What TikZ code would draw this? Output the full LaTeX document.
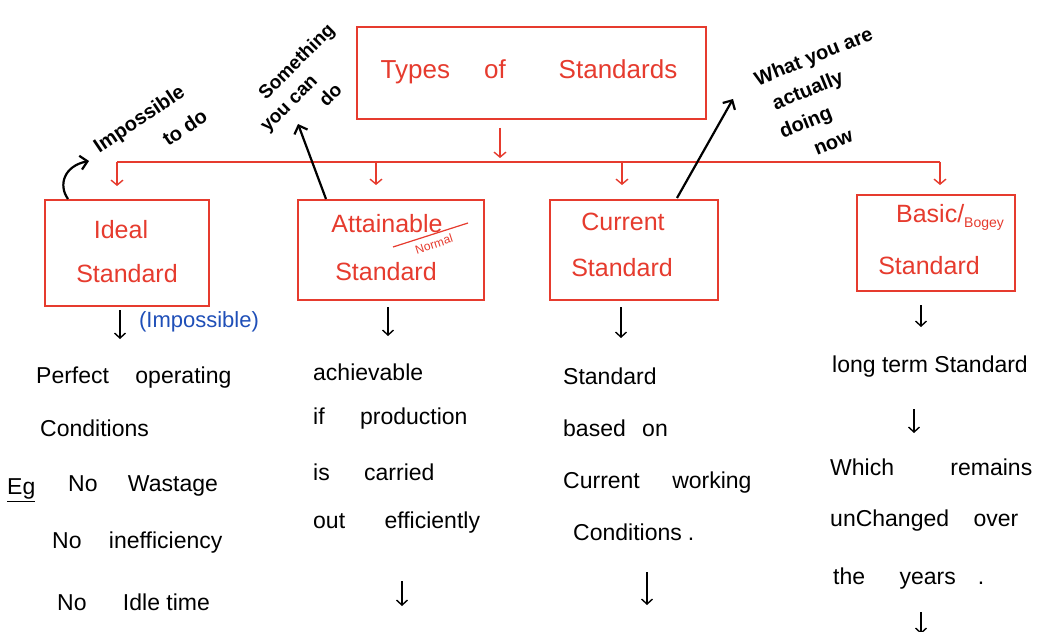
\documentclass[tikz,border=0pt]{standalone}
\usepackage{fontspec}
\setmainfont{Liberation Sans}
\usetikzlibrary{arrows.meta}
\definecolor{inkred}{HTML}{E63B2E}
\definecolor{inkblue}{HTML}{1F4FB8}
\begin{document}
\begin{tikzpicture}[x=1pt,y=-1pt,
  rbox/.style={draw=inkred, line width=1.6pt, inner sep=0pt},
  rtxt/.style={text=inkred, font=\fontsize{25}{28}\selectfont, inner sep=0pt},
  btxt/.style={text=black, font=\fontsize{23}{26}\selectfont, inner sep=0pt, anchor=west},
  note/.style={text=black, font=\bfseries\fontsize{20}{24}\selectfont, inner sep=0pt, align=center},
  redarrow/.style={draw=inkred, line width=1.4pt, -{Straight Barb[length=5pt,width=12pt]}},
  redline/.style={draw=inkred, line width=1.4pt},
  inkarrow/.style={draw=black, line width=1.4pt, -{Straight Barb[length=5pt,width=11pt]}},
  pointer/.style={draw=black, line width=2.2pt, -{Straight Barb[length=7pt,width=14pt]}}]
\useasboundingbox[fill=white] (0,0) rectangle (1056,631);

% ---------- boxes ----------
\node[rbox, minimum width=349pt, minimum height=92pt] (top) at (531.5,73) {};
\node[rtxt, font=\fontsize{26}{29}\selectfont] (toptxt) at (529,72) {Types\hspace{34pt}of\hspace{53pt}Standards};

\node[rbox, minimum width=164pt, minimum height=106pt] (ideal) at (127,253) {};
\node[rtxt] (ideal1) at (121,230) {Ideal};
\node[rtxt] (ideal2) at (127,274) {Standard};

\node[rbox, minimum width=186pt, minimum height=100pt] (attain) at (391,250) {};
\node[rtxt] (attain1) at (387,224) {Attainable};
\node[rtxt] (attain2) at (386,272) {Standard};
\node[rtxt, font=\fontsize{12}{14}\selectfont, rotate=18] (normal) at (434,244) {Normal};

\node[rbox, minimum width=168pt, minimum height=100pt] (current) at (634,250) {};
\node[rtxt] (current1) at (623,222) {Current};
\node[rtxt] (current2) at (622,268) {Standard};

\node[rbox, minimum width=158pt, minimum height=96pt] (basic) at (936,243) {};
\node[rtxt] (basic1) at (950,217) {Basic/\raisebox{-5pt}{\fontsize{14}{16}\selectfont Bogey}};
\node[rtxt] (basic2) at (929,266) {Standard};

% strike-through of "Attainable"
\coordinate (strikeA) at (393,247);
\coordinate (strikeB) at (468,223);
\draw[redline, line width=1.2pt] (strikeA) -- (strikeB);

% ---------- red tree ----------
\coordinate (stemtop) at (500,128);
\coordinate (stembot) at (500,158);
\coordinate (barL) at (117,162);
\coordinate (barR) at (940,162);
\coordinate (drop1) at (117,186);
\coordinate (b2) at (376,162);
\coordinate (drop2) at (376,185);
\coordinate (b3) at (622,162);
\coordinate (drop3) at (622,185);
\coordinate (drop4) at (940,185);
\draw[redarrow] (stemtop) -- (stembot);
\draw[redline] (barL) -- (barR);
\draw[redarrow] (barL) -- (drop1);
\draw[redarrow] (b2) -- (drop2);
\draw[redarrow] (b3) -- (drop3);
\draw[redarrow] (barR) -- (drop4);

% ---------- side notes ----------
\coordinate (curlStart) at (68,199);
\coordinate (curlEnd) at (89,161);
\draw[pointer] (curlStart) .. controls (58,185) and (64,166) .. (curlEnd);
\node[note, rotate=34, font=\bfseries\fontsize{20}{33}\selectfont] (imp) at (148,132)
  {Impossible\\\hspace*{66pt}to do};

\coordinate (attTop) at (326,199);
\coordinate (attTip) at (298,124);
\draw[pointer] (attTop) -- (attTip);
\node[note, rotate=45, font=\bfseries\fontsize{19}{24}\selectfont] (some) at (313,78)
  {Something\\you can\hspace*{70pt}\mbox{}\\do};

\coordinate (curTop) at (677,198);
\coordinate (curTip) at (733,99);
\draw[pointer] (curTop) -- (curTip);
\node[note, rotate=22, font=\bfseries\fontsize{20}{29}\selectfont] (what) at (813,103)
  {\hspace*{36pt}What you are\\actually\\doing\hspace*{28pt}\mbox{}\\\hspace*{8pt}now};

% ---------- Ideal column ----------
\coordinate (i0) at (120,310);
\coordinate (i1) at (120,339);
\draw[inkarrow] (i0) -- (i1);
\node[text=inkblue, font=\fontsize{22}{25}\selectfont, inner sep=0pt] (impos) at (199,322) {(Impossible)};
\node[btxt] (p1) at (36,378) {Perfect\hspace{20pt} operating};
\node[btxt] (p2) at (40,428) {Conditions};
\node[btxt] (eg) at (7,490) {\underline{Eg}};
\node[btxt] (p3) at (68,486) {No\hspace{24pt} Wastage};
\node[btxt] (p4) at (52,543) {No\hspace{21pt} inefficiency};
\node[btxt] (p5) at (57,602) {No\hspace{30pt} Idle time};

% ---------- Attainable column ----------
\coordinate (a0) at (388,307);
\coordinate (a1) at (388,336);
\draw[inkarrow] (a0) -- (a1);
\node[btxt] (q1) at (313,372) {achievable};
\node[btxt] (q2) at (313,419) {if\hspace{29pt} production};
\node[btxt] (q3) at (313,472) {is\hspace{28pt} carried};
\node[btxt] (q4) at (313,523) {out\hspace{33pt} efficiently};
\coordinate (a2) at (402,581);
\coordinate (a3) at (402,606);
\draw[inkarrow] (a2) -- (a3);

% ---------- Current column ----------
\coordinate (c0) at (621,307);
\coordinate (c1) at (621,338);
\draw[inkarrow] (c0) -- (c1);
\node[btxt] (r1) at (563,376) {Standard};
\node[btxt] (r2) at (563,428) {based\hspace{10pt} on};
\node[btxt] (r3) at (563,483) {Current\hspace{26pt} working};
\node[btxt] (r4) at (573,532) {Conditions\hspace{6pt}.};
\coordinate (c2) at (647,572);
\coordinate (c3) at (647,605);
\draw[inkarrow] (c2) -- (c3);

% ---------- Basic column ----------
\coordinate (s0) at (921,305);
\coordinate (s1) at (921,327);
\draw[inkarrow] (s0) -- (s1);
\node[btxt] (t1) at (832,367) {long term Standard};
\coordinate (s2) at (914,409);
\coordinate (s3) at (914,433);
\draw[inkarrow] (s2) -- (s3);
\node[btxt] (t2) at (830,467) {Which\hspace{50pt} remains};
\node[btxt] (t3) at (830,521) {unChanged\hspace{18pt} over};
\node[btxt] (t4) at (833,579) {the\hspace{28pt} years\hspace{22pt}.};
\coordinate (s4) at (921,612);
\coordinate (s5) at (921,634);
\draw[inkarrow] (s4) -- (s5);
\end{tikzpicture}
\end{document}
